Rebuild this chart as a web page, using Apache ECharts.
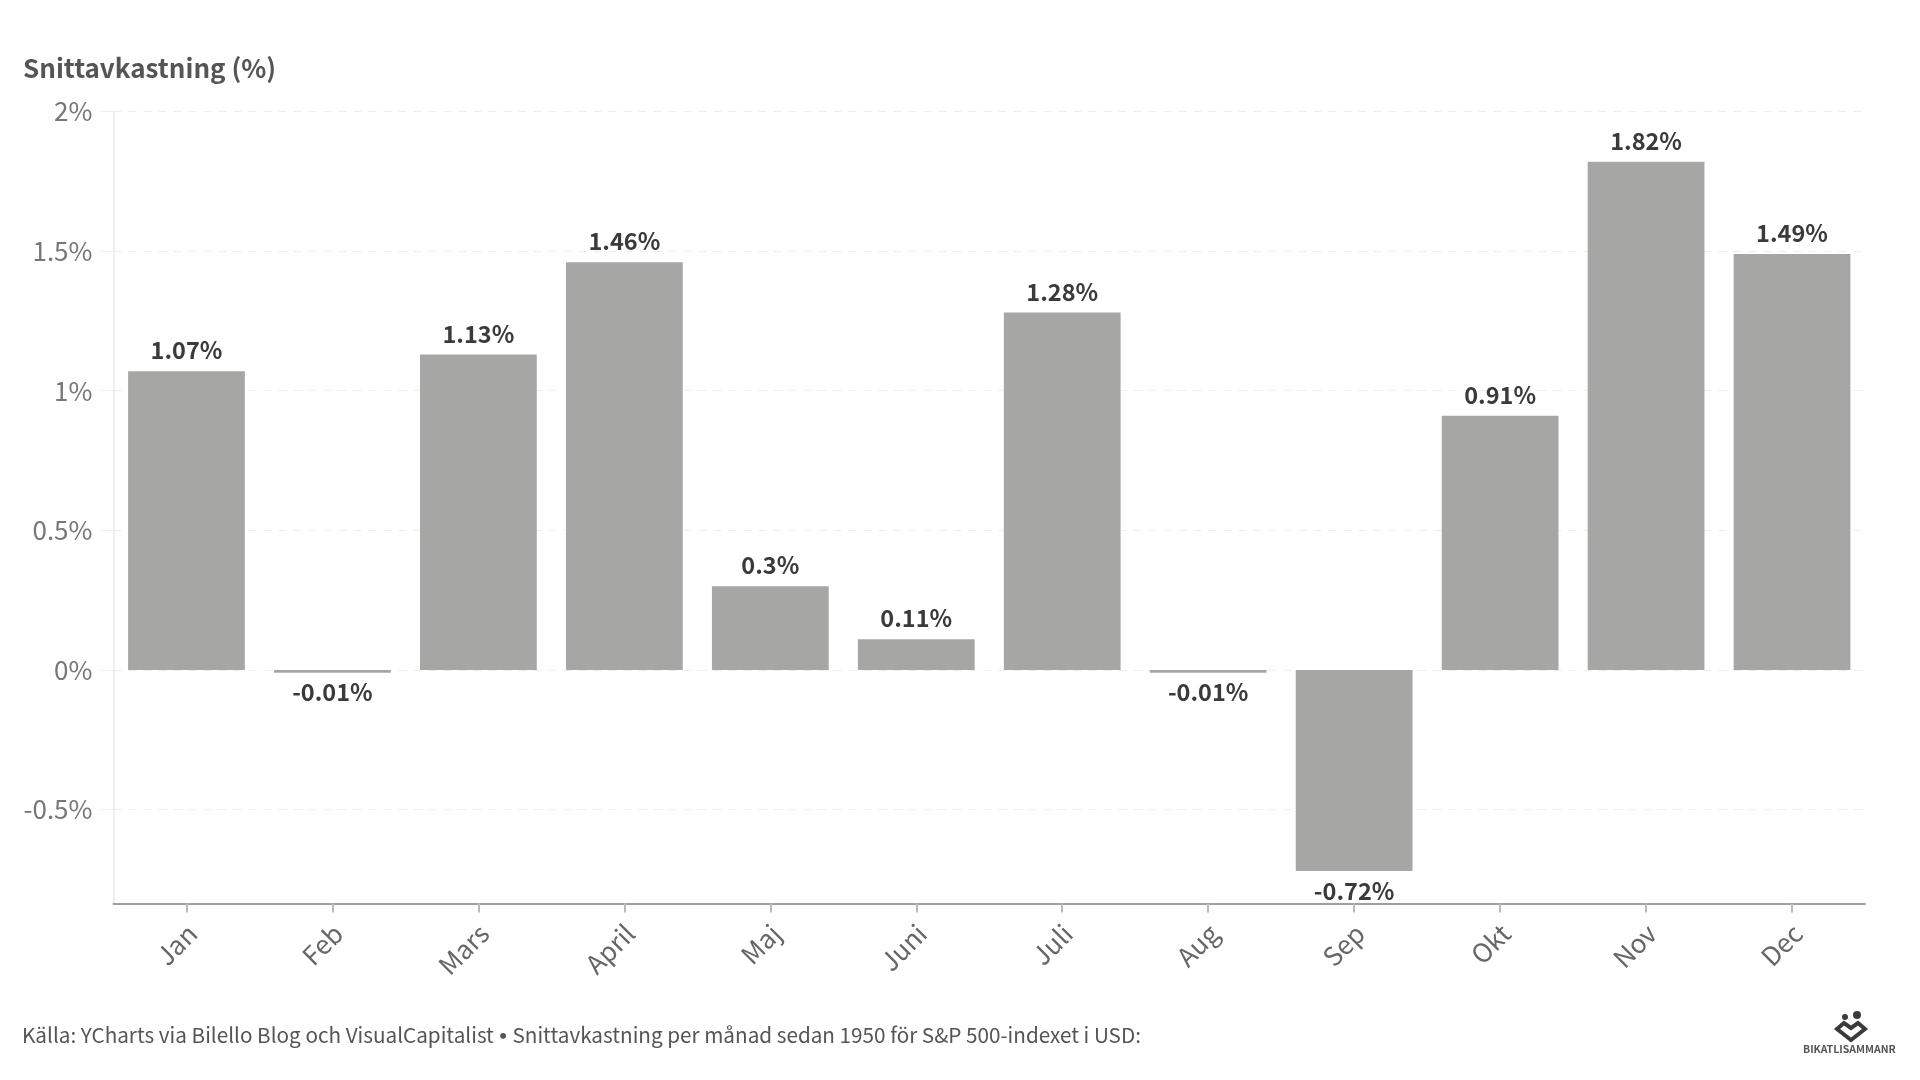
<!DOCTYPE html>
<html>
<head>
<meta charset="utf-8">
<style>
html, body { margin: 0; padding: 0; background: #fff; }
#main { width: 1920px; height: 1080px; }
</style>
<script src="https://cdn.jsdelivr.net/npm/echarts@6/dist/echarts.min.js"></script>
</head>
<body>
<div id="main"></div>
<script>
var months = ['Jan', 'Feb', 'Mars', 'April', 'Maj', 'Juni', 'Juli', 'Aug', 'Sep', 'Okt', 'Nov', 'Dec'];
var avgReturn = [1.07, -0.01, 1.13, 1.46, 0.3, 0.11, 1.28, -0.01, -0.72, 0.91, 1.82, 1.49];
var yTicks = [-0.5, 0, 0.5, 1, 1.5, 2];
var titleText = 'Snittavkastning (%)';
var sourceLeft = 'Källa: YCharts via Bilello Blog och VisualCapitalist';
var sourceRight = 'Snittavkastning per månad sedan 1950 för S&P 500-indexet i USD:';
var logoText = 'BIKATLISAMMANR';
// latin i CJK-fonten ligger närmast originalet
var fontName = '"Noto Sans CJK SC", "Noto Sans", sans-serif';

var myChart = echarts.init(document.getElementById('main'));

var option = {
    animation: false,
    textStyle: {fontFamily: fontName},
    title: [
        {
            text: titleText,
            left: 18,
            top: 50,
            textStyle: {fontSize: 26, fontWeight: 'bold', color: '#555555', fontFamily: fontName}
        },
        {
            text: sourceLeft + ' {dot|•} ' + sourceRight,
            left: 17,
            top: 1020,
            textStyle: {
                fontSize: 20.7,
                fontWeight: 'normal',
                color: '#555555',
                fontFamily: fontName,
                rich: {dot: {fontSize: 16, color: '#555555', fontFamily: 'Lato'}}
            }
        }
    ],
    // logotypen nere till höger
    graphic: [
        {type: 'circle', shape: {cx: 1845, cy: 1017, r: 3}, style: {fill: '#3a3a3a'}},
        {type: 'circle', shape: {cx: 1857, cy: 1015, r: 4}, style: {fill: '#3a3a3a'}},
        {
            type: 'polygon',
            shape: {points: [[1837, 1029], [1851, 1040], [1865, 1029], [1858, 1023], [1851, 1028], [1844, 1023]]},
            style: {fill: 'none', stroke: '#3a3a3a', lineWidth: 4}
        },
        {
            type: 'text',
            x: 1803,
            y: 1044,
            style: {text: logoText, fontSize: 10.5, fontWeight: 'bold', fill: '#555555', fontFamily: fontName}
        }
    ],
    grid: {left: 113.5, right: 55, top: 111.5, bottom: 176.5},
    xAxis: {
        type: 'category',
        data: months,
        axisLine: {onZero: false, lineStyle: {color: '#a0a0a0', width: 2}},
        axisTick: {show: true, alignWithLabel: true, length: 9, lineStyle: {color: '#bbbbbb', width: 2}},
        axisLabel: {rotate: 45, fontSize: 26, color: '#666666', margin: 31, padding: [0, -8, 0, 0], interval: 0}
    },
    yAxis: {
        type: 'value',
        min: -0.8365,
        max: 2,
        axisLine: {show: true, lineStyle: {color: '#eeeeee', width: 2}},
        axisTick: {show: true, length: 13, customValues: yTicks, lineStyle: {color: '#eeeeee', width: 1}},
        axisLabel: {
            fontSize: 26,
            color: '#777777',
            margin: 21,
            padding: [3, 0, 0, 0],
            customValues: yTicks,
            formatter: function (v) { return v + '%'; }
        },
        splitLine: {lineStyle: {color: '#efefe8', type: [8, 7], width: 1}}
    },
    series: [{
        type: 'bar',
        data: avgReturn,
        barWidth: '80%',
        itemStyle: {color: '#a6a6a5'},
        label: {
            show: true,
            position: 'outside',
            distance: 8.5,
            offset: [0, -0.5],
            fontSize: 23.5,
            fontWeight: 'bold',
            color: '#3a3a3a',
            formatter: function (p) { return p.value + '%'; }
        }
    }]
};
myChart.setOption(option);
</script>
</body>
</html>
